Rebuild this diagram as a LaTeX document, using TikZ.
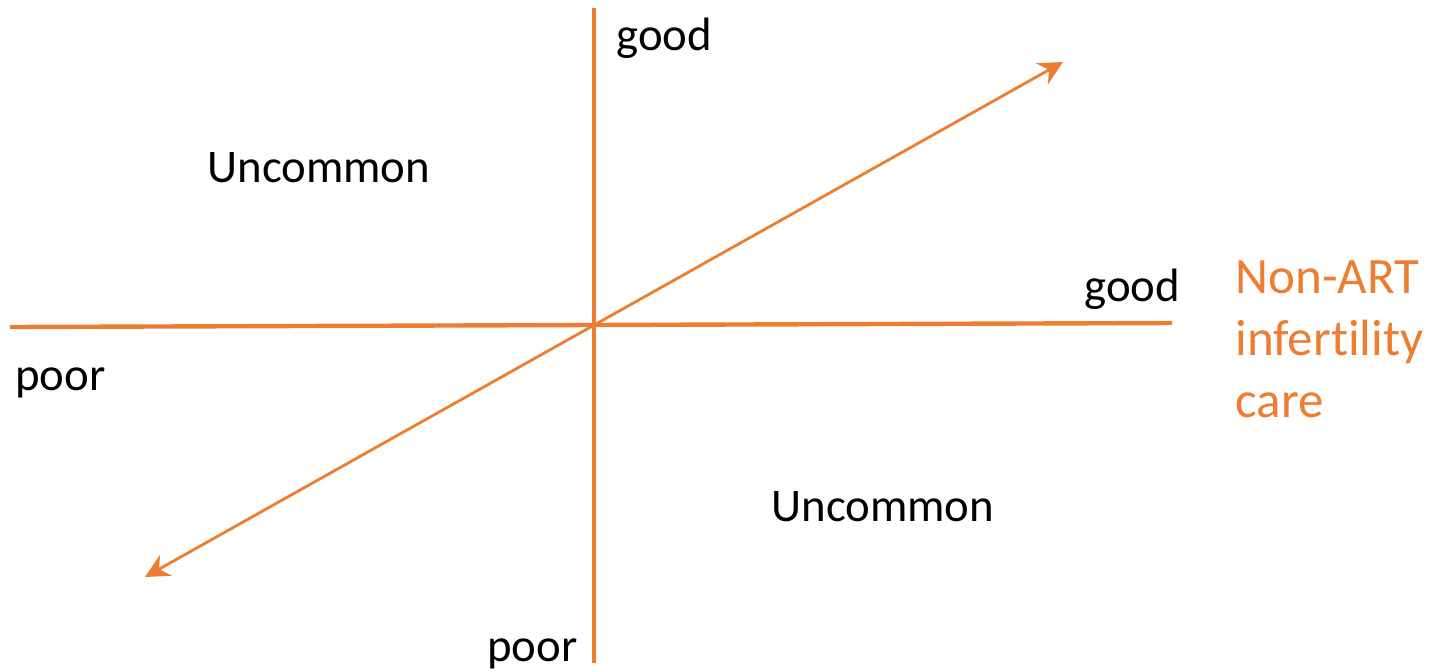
\documentclass[tikz,border=0pt]{standalone}
\usepackage{fontspec}
\setmainfont{Carlito}[Ligatures=NoCommon]
\usepackage{xcolor}
\usetikzlibrary{arrows.meta}
\definecolor{careorange}{HTML}{ED7D31}

\begin{document}
\begin{tikzpicture}[
  x=0.5pt, y=-0.5pt,
  axis/.style={draw=careorange, line width=2.2pt},
  trend/.style={draw=careorange, line width=1.4pt,
    {Stealth[length=12pt, width=12pt, inset=4pt]}-{Stealth[length=12pt, width=12pt, inset=4pt]}},
  pole/.style={font=\fontsize{23.4}{28}\selectfont, anchor=base west, inner sep=0pt},
  axis title/.style={font=\fontsize{25.5}{31}\selectfont, text=careorange,
    anchor=north west, align=left, inner sep=0pt}
]
\useasboundingbox (0,0) rectangle (1429,671);

% axes
\coordinate (vtop) at (594,8);
\coordinate (vbot) at (594,663);
\coordinate (hleft) at (10,327);
\coordinate (hright) at (1172,323);
\coordinate (dlow) at (145,577);
\coordinate (dhigh) at (1063,62);
\draw[axis] (vbot) -- (vtop);
\draw[axis] (hleft) -- (hright);
\draw[trend] (dlow) -- (dhigh);

% labels
\node[pole] (vgood) at (616,50) {good};
\node[pole] (vpoor) at (487,661) {poor};
\node[pole] (hgood) at (1084,301) {good};
\node[pole] (hpoor) at (15,390) {poor};
\node[pole] (uncommonA) at (207,182) {Uncommon};
\node[pole] (uncommonB) at (771,521) {Uncommon};
\node[axis title] (care) at (1235,260) {Non-ART\\infert\kern0pt ility\\care};
\end{tikzpicture}
\end{document}
